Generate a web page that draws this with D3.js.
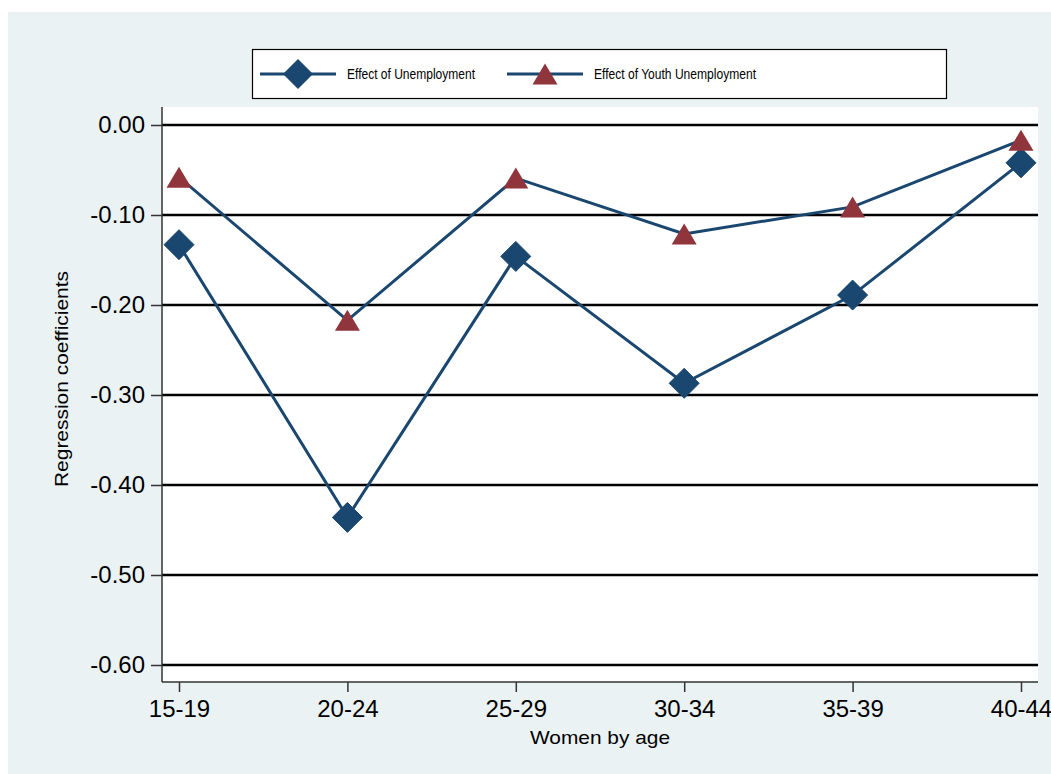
<!DOCTYPE html>
<html>
<head>
<meta charset="utf-8">
<script src="https://cdn.jsdelivr.net/npm/d3@7"></script>
<style>
  html, body { margin: 0; padding: 0; background: #ffffff; }
  svg { display: block; font-family: "Liberation Sans", Arial, sans-serif; }
</style>
</head>
<body>
<svg id="chart" width="1051" height="774"></svg>
<script>
// Age groups along the x axis
const ageGroups = ["15-19", "20-24", "25-29", "30-34", "35-39", "40-44"];
// Regression coefficients per age group
const unemploymentEffect = [-0.133, -0.436, -0.146, -0.287, -0.189, -0.042];
const youthUnemploymentEffect = [-0.058, -0.217, -0.059, -0.121, -0.091, -0.017];
// Y axis tick values and their labels
const yTicks = [0, -0.1, -0.2, -0.3, -0.4, -0.5, -0.6];
const yTickLabels = ["0.00", "-0.10", "-0.20", "-0.30", "-0.40", "-0.50", "-0.60"];
const seriesNames = ["Effect of Unemployment", "Effect of Youth Unemployment"];

const navy = "#1a476f";
const maroon = "#90353b";
const bg = "#eaf2f3";

const svg = d3.select("#chart");

// Outer graph region
svg.append("rect").attr("x", 8).attr("y", 12).attr("width", 1043).attr("height", 762).attr("fill", bg);

const plot = { left: 162, right: 1038, top: 107, bottom: 682 };

svg.append("rect")
  .attr("x", plot.left).attr("y", plot.top)
  .attr("width", plot.right - plot.left).attr("height", plot.bottom - plot.top)
  .attr("fill", "#ffffff");

const x = d3.scalePoint().domain(ageGroups).range([179, 1021]);
const y = d3.scaleLinear().domain([0, -0.6]).range([125, 665]);

// Horizontal grid lines
svg.append("g").selectAll("line").data(yTicks).join("line")
  .attr("x1", plot.left).attr("x2", plot.right)
  .attr("y1", d => y(d)).attr("y2", d => y(d))
  .attr("stroke", "#000").attr("stroke-width", 2.4);

// Y axis
const yAxis = svg.append("g").attr("transform", `translate(${plot.left},0)`)
  .call(d3.axisLeft(y).tickValues(yTicks).tickFormat((d, i) => yTickLabels[i]).tickSize(11).tickPadding(6));
yAxis.select(".domain").attr("d", `M0,${plot.top}V${plot.bottom}`).attr("stroke", "#333").attr("stroke-width", 1.5);
yAxis.selectAll(".tick line").attr("stroke", "#333").attr("stroke-width", 1.5);
yAxis.selectAll(".tick text").attr("font-size", 24).attr("fill", "#000");

// X axis
const xAxis = svg.append("g").attr("transform", `translate(0,${plot.bottom})`)
  .call(d3.axisBottom(x).tickSize(10).tickPadding(8));
xAxis.select(".domain").attr("d", `M${plot.left},0H${plot.right}`).attr("stroke", "#333").attr("stroke-width", 1.5);
xAxis.selectAll(".tick line").attr("stroke", "#333").attr("stroke-width", 1.5);
xAxis.selectAll(".tick text").attr("font-size", 24).attr("fill", "#000");

// Axis titles
svg.append("text").attr("x", (plot.left + plot.right) / 2).attr("y", 744)
  .attr("text-anchor", "middle").attr("font-size", 19)
  .attr("textLength", 140).attr("lengthAdjust", "spacingAndGlyphs").text("Women by age");
svg.append("text").attr("transform", "translate(68,379) rotate(-90)")
  .attr("text-anchor", "middle").attr("font-size", 19)
  .attr("textLength", 216).attr("lengthAdjust", "spacingAndGlyphs").text("Regression coefficients");

// Lines
const line = d3.line().x((d, i) => x(ageGroups[i])).y(d => y(d));
[unemploymentEffect, youthUnemploymentEffect].forEach(series => {
  svg.append("path").datum(series).attr("d", line)
    .attr("fill", "none").attr("stroke", navy).attr("stroke-width", 3);
});

const diamond = (cx, cy, r) => `M${cx},${cy - r}L${cx + r},${cy}L${cx},${cy + r}L${cx - r},${cy}Z`;
const triangle = (cx, cy, w, h) => `M${cx},${cy - h / 2}L${cx + w / 2},${cy + h / 2}L${cx - w / 2},${cy + h / 2}Z`;

// Markers
svg.append("g").selectAll("path").data(unemploymentEffect).join("path")
  .attr("d", (d, i) => diamond(x(ageGroups[i]), y(d), 15))
  .attr("fill", navy).attr("stroke", navy).attr("stroke-width", 1).attr("stroke-linejoin", "round");
svg.append("g").selectAll("path").data(youthUnemploymentEffect).join("path")
  .attr("d", (d, i) => triangle(x(ageGroups[i]), y(d), 25, 21))
  .attr("fill", maroon);

// Legend
const legend = svg.append("g");
legend.append("rect").attr("x", 252.5).attr("y", 49.5).attr("width", 694).attr("height", 49)
  .attr("fill", "#fff").attr("stroke", "#000").attr("stroke-width", 1.2);
const keys = [
  { x0: 260, text: 347, len: 128, shape: "d" },
  { x0: 507, text: 594, len: 162, shape: "t" }
];
keys.forEach((k, i) => {
  legend.append("line").attr("x1", k.x0).attr("x2", k.x0 + 76).attr("y1", 74).attr("y2", 74)
    .attr("stroke", navy).attr("stroke-width", 3);
  const cx = k.x0 + 38;
  if (k.shape === "d") {
    legend.append("path").attr("d", diamond(cx, 74, 15)).attr("fill", navy);
  } else {
    legend.append("path").attr("d", triangle(cx, 74, 25, 21)).attr("fill", maroon);
  }
  legend.append("text").attr("x", k.text).attr("y", 79).attr("font-size", 14)
    .attr("textLength", k.len).attr("lengthAdjust", "spacingAndGlyphs").text(seriesNames[i]);
});
</script>
</body>
</html>
